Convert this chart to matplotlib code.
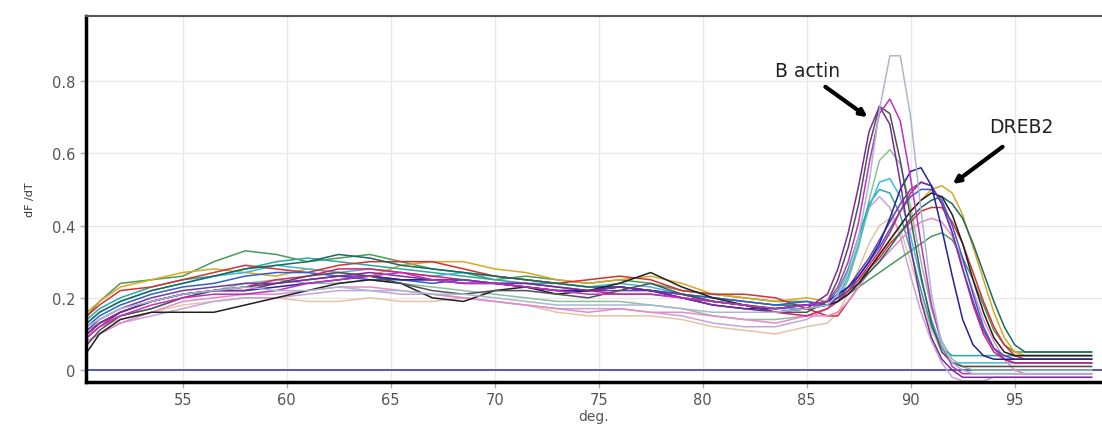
import matplotlib
matplotlib.use("Agg")
import matplotlib.pyplot as plt

# Temperature grid (deg.)
temps = [50.4, 51, 52, 53.5, 55, 56.5, 58, 59.5, 61, 62.5, 64, 65.5, 67, 68.5, 70,
         71.5, 73, 74.5, 76, 77.5, 79, 80.5, 82, 83.5, 85,
         86, 86.5, 87, 87.5, 88, 88.5, 89, 89.5, 90, 90.5, 91, 91.5, 92, 92.5, 93,
         93.5, 94, 94.5, 95, 95.5, 96, 98.7]

# ---- B actin curves ----
ba_greyblue = [0.12, 0.14, 0.17, 0.19, 0.21, 0.22, 0.23, 0.22, 0.22, 0.23, 0.22, 0.22, 0.21, 0.21, 0.20,
               0.19, 0.18, 0.18, 0.18, 0.18, 0.17, 0.16, 0.16, 0.16, 0.17,
               0.18, 0.21, 0.27, 0.37, 0.52, 0.72, 0.87, 0.87, 0.70, 0.44, 0.21, 0.07, 0.02, 0.00, -0.01,
               -0.01, -0.01, -0.01, -0.01, -0.01, -0.01, -0.01]
ba_magenta = [0.09, 0.12, 0.15, 0.18, 0.20, 0.21, 0.21, 0.22, 0.24, 0.25, 0.26, 0.27, 0.25, 0.24, 0.24,
              0.23, 0.22, 0.21, 0.21, 0.21, 0.20, 0.19, 0.18, 0.17, 0.18,
              0.19, 0.23, 0.30, 0.41, 0.57, 0.71, 0.75, 0.69, 0.53, 0.35, 0.18, 0.07, 0.01, -0.01, -0.01,
              -0.01, -0.01, -0.01, -0.01, -0.01, -0.01, -0.01]
ba_darkgrey = [0.07, 0.11, 0.15, 0.17, 0.20, 0.22, 0.23, 0.24, 0.26, 0.27, 0.26, 0.24, 0.22, 0.21, 0.22,
               0.22, 0.21, 0.20, 0.22, 0.24, 0.21, 0.19, 0.18, 0.16, 0.16,
               0.19, 0.25, 0.34, 0.46, 0.62, 0.73, 0.71, 0.58, 0.42, 0.26, 0.13, 0.05, 0.02, 0.01, 0.01,
               0.01, 0.01, 0.01, 0.01, 0.01, 0.01, 0.01]
ba_purple = [0.10, 0.13, 0.16, 0.19, 0.21, 0.22, 0.22, 0.24, 0.25, 0.26, 0.27, 0.26, 0.25, 0.24, 0.24,
             0.24, 0.23, 0.22, 0.23, 0.22, 0.20, 0.18, 0.17, 0.16, 0.17,
             0.21, 0.28, 0.38, 0.51, 0.66, 0.73, 0.68, 0.52, 0.34, 0.19, 0.09, 0.03, 0.00, -0.02, -0.02,
             -0.02, -0.02, -0.02, -0.02, -0.02, -0.02, -0.02]
ba_greygreen = [0.11, 0.13, 0.15, 0.17, 0.20, 0.22, 0.24, 0.25, 0.24, 0.24, 0.25, 0.24, 0.23, 0.22, 0.21,
                0.20, 0.19, 0.19, 0.19, 0.18, 0.17, 0.15, 0.14, 0.14, 0.15,
                0.17, 0.19, 0.25, 0.34, 0.47, 0.58, 0.61, 0.57, 0.45, 0.30, 0.17, 0.08, 0.03, 0.01, 0.00,
                0.00, 0.00, 0.00, 0.00, 0.00, 0.00, 0.00]
ba_cyan = [0.13, 0.16, 0.19, 0.22, 0.24, 0.26, 0.27, 0.29, 0.28, 0.27, 0.28, 0.27, 0.26, 0.27, 0.26,
           0.25, 0.24, 0.23, 0.24, 0.23, 0.21, 0.19, 0.18, 0.17, 0.17,
           0.18, 0.20, 0.26, 0.35, 0.45, 0.52, 0.53, 0.48, 0.37, 0.25, 0.14, 0.06, 0.02, 0.02, 0.02,
           0.02, 0.02, 0.02, 0.02, 0.02, 0.02, 0.02]
ba_teal = [0.14, 0.17, 0.20, 0.23, 0.25, 0.26, 0.28, 0.30, 0.31, 0.30, 0.29, 0.28, 0.27, 0.26, 0.25,
           0.24, 0.24, 0.23, 0.23, 0.22, 0.20, 0.19, 0.18, 0.17, 0.18,
           0.19, 0.22, 0.28, 0.37, 0.46, 0.50, 0.49, 0.43, 0.33, 0.22, 0.12, 0.06, 0.04, 0.04, 0.04,
           0.04, 0.04, 0.04, 0.04, 0.04, 0.04, 0.04]
ba_lavender = [0.08, 0.10, 0.13, 0.15, 0.17, 0.19, 0.20, 0.20, 0.21, 0.22, 0.22, 0.21, 0.21, 0.20, 0.19,
               0.18, 0.17, 0.17, 0.17, 0.16, 0.15, 0.13, 0.12, 0.12, 0.14,
               0.17, 0.21, 0.28, 0.37, 0.45, 0.48, 0.45, 0.37, 0.26, 0.16, 0.08, 0.02, -0.02, -0.03, -0.03,
               -0.03, -0.02, -0.02, -0.02, -0.02, -0.02, -0.02]
ba_peach = [0.10, 0.12, 0.14, 0.16, 0.18, 0.19, 0.20, 0.20, 0.19, 0.19, 0.20, 0.19, 0.19, 0.20, 0.19,
            0.18, 0.16, 0.15, 0.15, 0.15, 0.14, 0.12, 0.11, 0.10, 0.12,
            0.13, 0.16, 0.21, 0.28, 0.35, 0.40, 0.42, 0.39, 0.30, 0.20, 0.11, 0.05, 0.02, 0.01, 0.01,
            0.01, 0.01, 0.01, 0.01, 0.01, 0.01, 0.01]

# ---- DREB2 curves ----
dr_darkblue = [0.10, 0.13, 0.16, 0.19, 0.21, 0.22, 0.22, 0.23, 0.24, 0.25, 0.26, 0.25, 0.25, 0.24, 0.24,
               0.23, 0.22, 0.22, 0.23, 0.22, 0.20, 0.18, 0.17, 0.17, 0.18,
               0.19, 0.21, 0.23, 0.26, 0.30, 0.35, 0.42, 0.50, 0.55, 0.56, 0.51, 0.39, 0.26, 0.14, 0.07,
               0.04, 0.03, 0.03, 0.03, 0.03, 0.03, 0.03]
dr_hotpink = [0.09, 0.12, 0.16, 0.19, 0.21, 0.22, 0.23, 0.25, 0.26, 0.28, 0.28, 0.27, 0.26, 0.25, 0.24,
              0.23, 0.22, 0.22, 0.21, 0.21, 0.20, 0.19, 0.18, 0.16, 0.15,
              0.17, 0.19, 0.22, 0.25, 0.29, 0.33, 0.38, 0.44, 0.49, 0.52, 0.51, 0.46, 0.38, 0.28, 0.18,
              0.10, 0.05, 0.03, 0.02, 0.02, 0.02, 0.02]
dr_black = [0.05, 0.10, 0.14, 0.16, 0.16, 0.16, 0.18, 0.20, 0.22, 0.24, 0.25, 0.24, 0.20, 0.19, 0.22,
            0.23, 0.21, 0.22, 0.24, 0.27, 0.23, 0.20, 0.18, 0.16, 0.17,
            0.18, 0.19, 0.21, 0.24, 0.28, 0.32, 0.36, 0.40, 0.44, 0.47, 0.49, 0.48, 0.43, 0.35, 0.25,
            0.16, 0.09, 0.05, 0.04, 0.04, 0.04, 0.04]
dr_darkteal = [0.13, 0.16, 0.19, 0.22, 0.24, 0.26, 0.28, 0.29, 0.30, 0.32, 0.31, 0.29, 0.28, 0.27, 0.26,
               0.25, 0.24, 0.23, 0.23, 0.22, 0.21, 0.20, 0.19, 0.18, 0.18,
               0.19, 0.20, 0.22, 0.24, 0.27, 0.30, 0.34, 0.38, 0.42, 0.45, 0.47, 0.48, 0.46, 0.42, 0.35,
               0.27, 0.19, 0.12, 0.07, 0.05, 0.05, 0.05]
dr_red = [0.15, 0.18, 0.22, 0.23, 0.25, 0.27, 0.29, 0.28, 0.27, 0.29, 0.30, 0.30, 0.30, 0.28, 0.26,
          0.25, 0.24, 0.25, 0.26, 0.25, 0.22, 0.21, 0.21, 0.20, 0.17,
          0.15, 0.15, 0.19, 0.23, 0.28, 0.31, 0.35, 0.38, 0.41, 0.44, 0.45, 0.45, 0.41, 0.35, 0.27,
          0.19, 0.12, 0.07, 0.04, 0.03, 0.03, 0.03]
dr_blue = [0.12, 0.15, 0.18, 0.21, 0.23, 0.24, 0.26, 0.27, 0.27, 0.26, 0.25, 0.25, 0.24, 0.25, 0.24,
           0.23, 0.22, 0.22, 0.23, 0.22, 0.21, 0.20, 0.19, 0.18, 0.19,
           0.18, 0.19, 0.22, 0.26, 0.30, 0.34, 0.39, 0.44, 0.48, 0.50, 0.50, 0.47, 0.40, 0.31, 0.21,
           0.12, 0.06, 0.03, 0.02, 0.02, 0.02, 0.02]
dr_yellow = [0.16, 0.19, 0.23, 0.25, 0.27, 0.28, 0.27, 0.26, 0.28, 0.27, 0.26, 0.29, 0.30, 0.30, 0.28,
             0.27, 0.25, 0.24, 0.25, 0.26, 0.24, 0.21, 0.20, 0.19, 0.20,
             0.19, 0.20, 0.22, 0.25, 0.28, 0.32, 0.36, 0.40, 0.44, 0.47, 0.50, 0.51, 0.49, 0.43, 0.34,
             0.25, 0.16, 0.09, 0.05, 0.04, 0.04, 0.04]
dr_green = [0.15, 0.19, 0.24, 0.25, 0.26, 0.30, 0.33, 0.32, 0.30, 0.31, 0.32, 0.30, 0.28, 0.27, 0.25,
            0.26, 0.25, 0.24, 0.25, 0.24, 0.22, 0.21, 0.20, 0.19, 0.19,
            0.18, 0.19, 0.21, 0.23, 0.25, 0.27, 0.29, 0.31, 0.33, 0.35, 0.37, 0.38, 0.36, 0.31, 0.25,
            0.18, 0.11, 0.07, 0.05, 0.05, 0.05, 0.05]
dr_pink = [0.08, 0.10, 0.13, 0.16, 0.19, 0.20, 0.21, 0.21, 0.22, 0.23, 0.23, 0.22, 0.21, 0.20, 0.19,
           0.18, 0.17, 0.16, 0.17, 0.16, 0.16, 0.15, 0.14, 0.13, 0.15,
           0.15, 0.16, 0.19, 0.23, 0.27, 0.30, 0.33, 0.36, 0.39, 0.41, 0.42, 0.41, 0.37, 0.30, 0.22,
           0.14, 0.08, 0.03, 0.00, -0.01, -0.01, -0.01]
dr_violet = [0.11, 0.14, 0.17, 0.20, 0.22, 0.23, 0.24, 0.24, 0.25, 0.26, 0.26, 0.25, 0.25, 0.25, 0.24,
             0.24, 0.23, 0.22, 0.22, 0.22, 0.21, 0.19, 0.18, 0.17, 0.18,
             0.18, 0.20, 0.23, 0.27, 0.31, 0.36, 0.41, 0.46, 0.50, 0.52, 0.51, 0.46, 0.38, 0.28, 0.19,
             0.11, 0.06, 0.04, 0.03, 0.03, 0.03, 0.03]

series = [
    (ba_peach, "#e3c4a4"), (ba_lavender, "#c4a4d8"), (ba_greygreen, "#8fbf9a"),
    (dr_green, "#4a9a5a"), (dr_yellow, "#d8a820"), (ba_teal, "#2aa8a0"),
    (ba_cyan, "#40b8d8"), (dr_red, "#d83030"), (dr_pink, "#e58ac8"),
    (dr_darkteal, "#1a6a60"), (dr_blue, "#3060d0"), (dr_hotpink, "#d82070"),
    (dr_black, "#202020"), (dr_violet, "#7038b0"), (dr_darkblue, "#22229a"),
    (ba_darkgrey, "#505058"), (ba_purple, "#7a2a9a"), (ba_magenta, "#c030c0"),
    (ba_greyblue, "#a8b8d0"),
]

x_ticks = [55, 60, 65, 70, 75, 80, 85, 90, 95]
y_ticks = [0, 0.2, 0.4, 0.6, 0.8]
y_tick_labels = ["0", "0.2", "0.4", "0.6", "0.8"]

fig = plt.figure(figsize=(11.02, 4.31), dpi=100)
ax = fig.add_axes([86 / 1102, 48 / 431, 1016 / 1102, 366 / 431])

ax.axhline(0, color="#4a4ab8", lw=1.3, zorder=1)
for vals, col in series:
    ax.plot(temps, vals, color=col, lw=1.1, zorder=2)

ax.set_xlim(50.35, 99.2)
ax.set_ylim(-0.033, 0.98)
ax.set_xticks(x_ticks)
ax.set_yticks(y_ticks)
ax.set_yticklabels(y_tick_labels)
ax.grid(True, color="#e8e8e8", lw=1.0, zorder=0)
ax.set_axisbelow(True)
ax.tick_params(axis="both", colors="#aaaaaa", labelcolor="#555555", labelsize=10.5,
               length=4, width=1, direction="out")

for side in ("left", "bottom"):
    ax.spines[side].set_linewidth(2.5)
    ax.spines[side].set_color("black")
ax.spines["top"].set_linewidth(1.5)
ax.spines["top"].set_color("#555555")
ax.spines["right"].set_visible(False)

ax.set_xlabel("deg.", fontsize=10, color="#555555", labelpad=1)
ax.set_ylabel("dF /dT", fontsize=8, color="#333333", labelpad=12)

ax.text(85.05, 0.828, "B actin", fontsize=13.5, color="#222222", ha="center", va="center")
ax.annotate("", xy=(87.93, 0.70), xytext=(85.9, 0.784),
            arrowprops=dict(arrowstyle="-|>", lw=3, color="black", mutation_scale=10,
                            shrinkA=0, shrinkB=0))
ax.text(95.33, 0.673, "DREB2", fontsize=13.5, color="#222222", ha="center", va="center")
ax.annotate("", xy=(92.02, 0.515), xytext=(94.42, 0.618),
            arrowprops=dict(arrowstyle="-|>", lw=3, color="black", mutation_scale=10,
                            shrinkA=0, shrinkB=0))

fig.savefig("out.png", dpi=100)
